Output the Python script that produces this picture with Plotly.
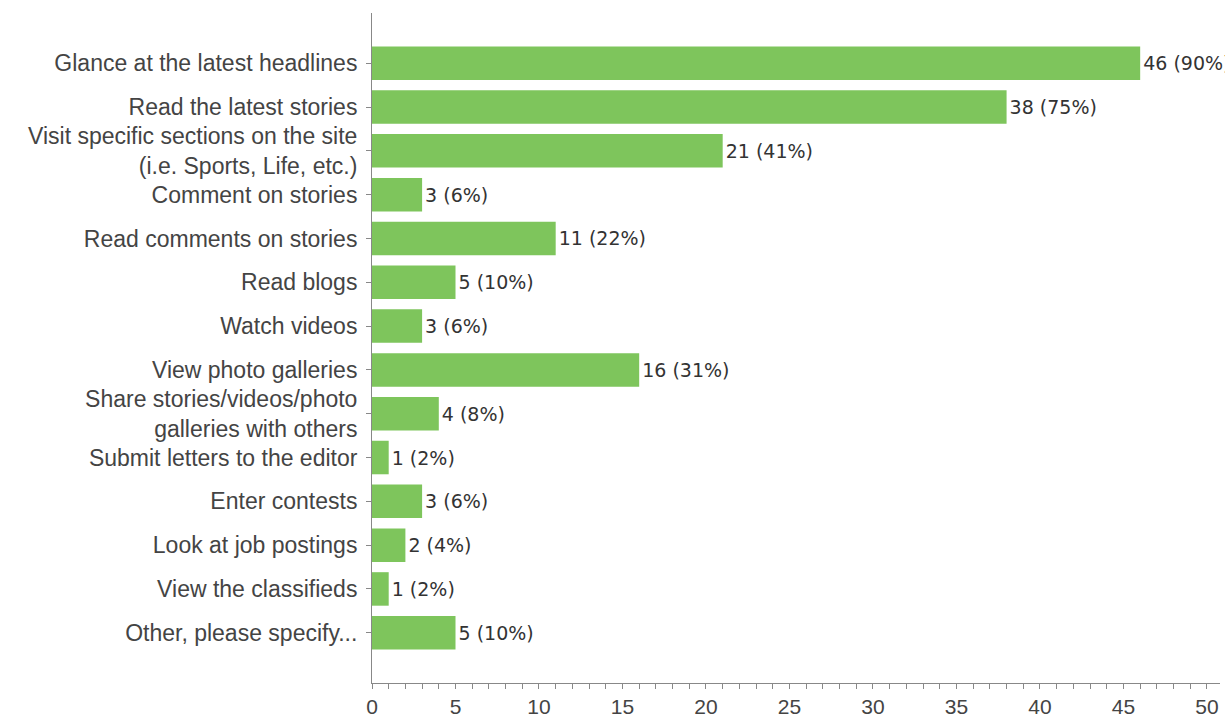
import plotly.graph_objects as go

# Survey responses: what people do on the site
activities = [
    "Glance at the latest headlines",
    "Read the latest stories",
    "Visit specific sections on the site<br>(i.e. Sports, Life, etc.)",
    "Comment on stories",
    "Read comments on stories",
    "Read blogs",
    "Watch videos",
    "View photo galleries",
    "Share stories/videos/photo<br>galleries with others",
    "Submit letters to the editor",
    "Enter contests",
    "Look at job postings",
    "View the classifieds",
    "Other, please specify...",
]
counts = [46, 38, 21, 3, 11, 5, 3, 16, 4, 1, 3, 2, 1, 5]
percents = [90, 75, 41, 6, 22, 10, 6, 31, 8, 2, 6, 4, 2, 10]
x_ticks = [0, 5, 10, 15, 20, 25, 30, 35, 40, 45, 50]

labels = [f"{c} ({p}%)" for c, p in zip(counts, percents)]

fig = go.Figure(
    go.Bar(
        x=counts,
        y=activities,
        orientation="h",
        marker=dict(color="#7ec55c", line=dict(width=0)),
        text=labels,
        textposition="outside",
        textfont=dict(family="DejaVu Sans", size=19, color="#333333"),
        constraintext="none",
        cliponaxis=False,
        hoverinfo="skip",
    )
)

n = len(activities)
fig.update_layout(
    width=1225,
    height=723,
    margin=dict(l=372, r=5, t=13, b=30),
    paper_bgcolor="white",
    plot_bgcolor="white",
    bargap=0.235,
    showlegend=False,
    font=dict(family="Liberation Sans", color="#444444"),
)

fig.update_yaxes(
    type="category",
    categoryorder="array",
    categoryarray=activities,
    range=[n - 1 + 1.147, -1.147],
    autorange=False,
    showline=True,
    linecolor="#888888",
    linewidth=1,
    ticks="outside",
    ticklen=5,
    tickcolor="#888888",
    ticklabelstandoff=4,
    tickfont=dict(family="Liberation Sans", size=23, color="#444444"),
    showgrid=False,
    zeroline=False,
)

fig.update_xaxes(
    range=[0, 50.78],
    autorange=False,
    tickvals=x_ticks,
    ticktext=[str(v) for v in x_ticks],
    showline=True,
    linecolor="#888888",
    linewidth=1,
    ticks="outside",
    ticklen=5,
    tickcolor="#888888",
    minor=dict(dtick=1, ticks="outside", ticklen=5, tickcolor="#888888", showgrid=False),
    tickfont=dict(family="Liberation Sans", size=21, color="#444444"),
    showgrid=False,
    zeroline=False,
)

fig.write_html("out.html")
